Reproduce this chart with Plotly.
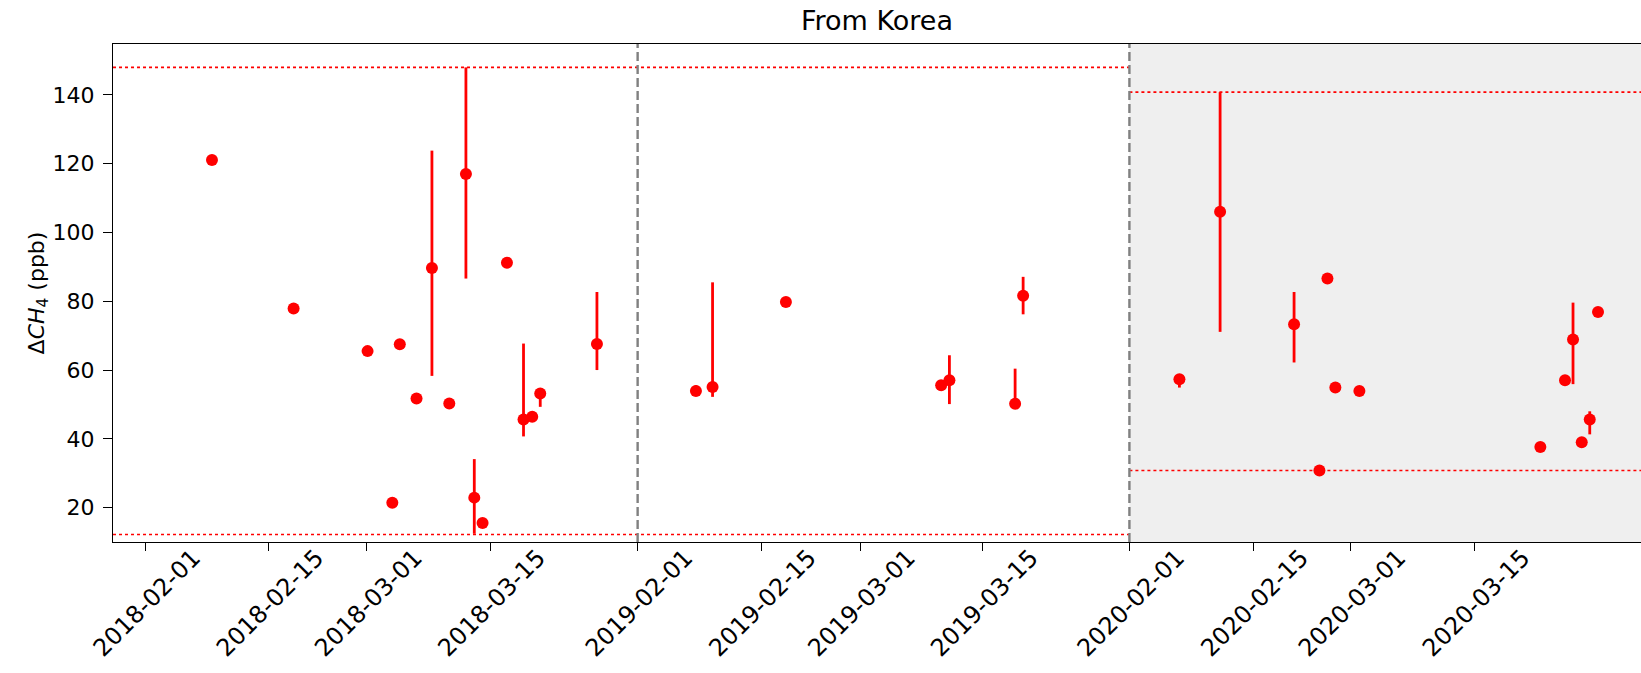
import plotly.graph_objects as go

# ---- data (x in axis position units; ticks labelled by date) ----
tick_pos = [0, 14.0, 25.17, 39.17, 55.91, 69.94, 81.18, 95.13, 111.76, 125.82, 136.88, 150.98]
tick_labels = ["2018-02-01", "2018-02-15", "2018-03-01", "2018-03-15",
               "2019-02-01", "2019-02-15", "2019-03-01", "2019-03-15",
               "2020-02-01", "2020-02-15", "2020-03-01", "2020-03-15"]

pos = [7.57, 16.84, 25.24, 28.05, 28.9, 30.80, 32.55, 34.52, 36.41, 37.36, 38.30, 41.07, 42.95, 43.94, 44.85, 51.29,
       62.53, 64.42, 72.75, 90.38, 91.32, 98.78, 99.69,
       117.44, 122.06, 130.46, 133.34, 134.25, 135.15, 137.88, 158.43, 161.23, 162.14, 163.13, 164.04, 164.98]
val = [121.1, 77.9, 65.5, 21.4, 67.5, 51.7, 89.7, 50.3, 117.0, 22.9, 15.5, 91.2, 45.6, 46.4, 53.2, 67.6,
       53.9, 55.1, 79.8, 55.6, 57.0, 50.2, 81.6,
       57.3, 106.0, 73.3, 30.8, 86.6, 54.9, 53.9, 37.6, 57.0, 68.9, 39.0, 45.6, 76.9]
low = [121.1, 77.9, 65.5, 21.4, 67.5, 51.7, 58.3, 50.3, 86.6, 12.4, 15.5, 91.2, 40.7, 46.4, 49.3, 60.0,
       52.6, 52.2, 79.8, 55.6, 50.1, 48.8, 76.2,
       54.9, 71.1, 62.2, 30.8, 86.6, 54.9, 53.9, 37.6, 57.0, 55.9, 39.0, 41.3, 76.9]
high = [121.1, 77.9, 65.5, 21.4, 67.5, 51.7, 123.8, 50.3, 148.0, 34.1, 15.5, 91.2, 67.7, 46.4, 53.5, 82.7,
        55.6, 85.5, 79.8, 55.6, 64.3, 60.4, 87.1,
        57.8, 140.8, 82.7, 30.8, 86.6, 54.9, 53.9, 37.6, 57.0, 79.6, 39.0, 48.0, 76.9]

year_bounds = [55.91, 111.76]          # dashed separators (2019-02-01, 2020-02-01)
x_range = [-3.67, 169.86]
y_range = [10.0, 154.8]
limits_1819 = [148.0, 12.2]            # dotted red limits for 2018-2019
limits_2020 = [140.8, 30.8]            # dotted red limits for 2020

plus = [h - v for h, v in zip(high, val)]
minus = [v - l for v, l in zip(val, low)]

fig = go.Figure()
fig.add_trace(go.Scatter(
    x=pos, y=val, mode="markers",
    marker=dict(color="#ff0000", size=12),
    error_y=dict(type="data", symmetric=False, array=plus, arrayminus=minus,
                 color="#ff0000", thickness=2.8, width=0),
    showlegend=False,
))

shapes = []
# shaded 2020 region
shapes.append(dict(type="rect", xref="x", yref="paper", x0=year_bounds[1], x1=x_range[1], y0=0, y1=1,
                   fillcolor="#efefef", line=dict(width=0), layer="below"))
for yv in limits_1819:
    shapes.append(dict(type="line", xref="x", yref="y", x0=x_range[0], x1=year_bounds[1], y0=yv, y1=yv,
                       line=dict(color="#ff0000", width=1.6, dash="dot")))
for yv in limits_2020:
    shapes.append(dict(type="line", xref="x", yref="y", x0=year_bounds[1], x1=x_range[1], y0=yv, y1=yv,
                       line=dict(color="#ff0000", width=1.6, dash="dot")))
for xb in year_bounds:
    shapes.append(dict(type="line", xref="x", yref="paper", x0=xb, x1=xb, y0=0, y1=1,
                       line=dict(color="#808080", width=2.4, dash="9px,4px")))

fig.update_layout(
    width=1641, height=673,
    margin=dict(l=113, r=0, t=44, b=131),
    paper_bgcolor="white", plot_bgcolor="white",
    font=dict(family="DejaVu Sans", size=22, color="black"),
    title=dict(text="From Korea", x=0.5, xref="paper", y=1 - 21 / 673, yref="container",
               xanchor="center", yanchor="middle", font=dict(size=27)),
    shapes=shapes,
    xaxis=dict(range=x_range, tickvals=tick_pos, ticktext=tick_labels, tickangle=-45,
               tickfont=dict(size=24), ticklabelshift=48, ticklabelstandoff=-17,
               automargin=False,
               showgrid=False, zeroline=False, showline=True, linecolor="black", linewidth=1.4,
               mirror=True, ticks="outside", ticklen=8, tickwidth=1.4, tickcolor="black"),
    yaxis=dict(range=y_range, tickvals=[20, 40, 60, 80, 100, 120, 140], automargin=False,
               ticklabelstandoff=4,
               showgrid=False, zeroline=False, showline=True, linecolor="black", linewidth=1.4,
               mirror=False, ticks="outside", ticklen=9, tickwidth=1.4, tickcolor="black",
               title=dict(text="Δ<i>CH</i><sub>4</sub> (ppb)", standoff=0, font=dict(size=22))),
)

fig.write_html("out.html", config={"displayModeBar": False},
               post_script="document.body.style.margin='0';document.body.style.overflow='hidden';")
